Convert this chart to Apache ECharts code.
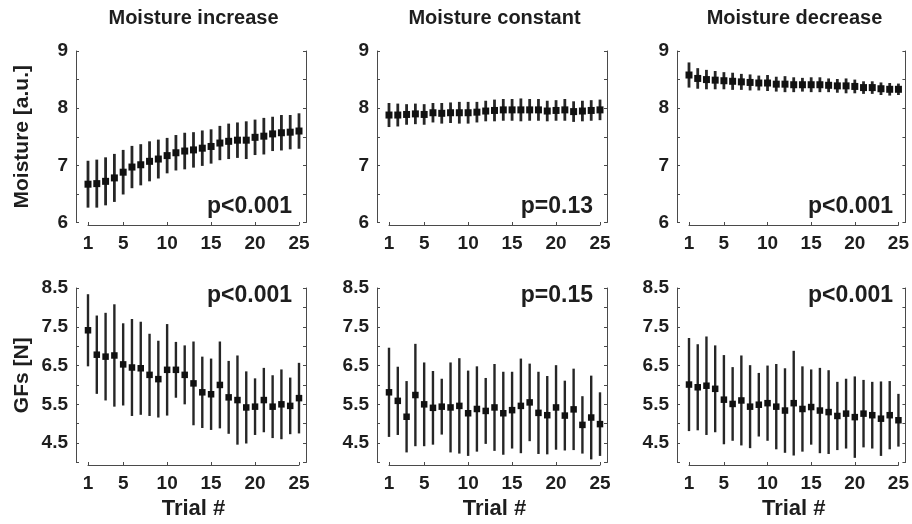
<!DOCTYPE html>
<html>
<head>
<meta charset="utf-8">
<script src="https://cdn.jsdelivr.net/npm/echarts@6/dist/echarts.min.js"></script>
<style>
  html, body { margin: 0; padding: 0; background: #fff; }
  #chart { width: 912px; height: 524px; }
</style>
</head>
<body>
<div id="chart"></div>
<script>
// Trial numbers and tick labels
const trials = Array.from({ length: 25 }, (_, i) => i + 1);
const xTickValues = [1, 5, 10, 15, 20, 25];
const moistureTicks = [6, 7, 8, 9];
const gfTicks = [4.5, 5.5, 6.5, 7.5, 8.5];

const conditionTitles = ['Moisture increase', 'Moisture constant', 'Moisture decrease'];
const moisturePValues = ['p<0.001', 'p=0.13', 'p<0.001'];
const gfPValues = ['p<0.001', 'p=0.15', 'p<0.001'];

// Moisture [a.u.] — mean and SD per trial
const moistIncMean = [6.67, 6.68, 6.72, 6.78, 6.88, 6.97, 7.01, 7.07, 7.11, 7.17, 7.22, 7.25, 7.27, 7.30, 7.33, 7.39, 7.42, 7.44, 7.44, 7.49, 7.51, 7.55, 7.57, 7.58, 7.60];
const moistIncSd   = [0.41, 0.42, 0.42, 0.42, 0.39, 0.37, 0.36, 0.35, 0.34, 0.31, 0.31, 0.32, 0.31, 0.31, 0.30, 0.30, 0.31, 0.31, 0.33, 0.31, 0.32, 0.30, 0.31, 0.30, 0.31];
const moistConMean = [7.88, 7.88, 7.89, 7.90, 7.89, 7.92, 7.91, 7.92, 7.92, 7.92, 7.93, 7.95, 7.96, 7.97, 7.97, 7.97, 7.97, 7.97, 7.95, 7.96, 7.97, 7.94, 7.95, 7.96, 7.97];
const moistConSd   = [0.21, 0.20, 0.18, 0.18, 0.18, 0.17, 0.18, 0.18, 0.19, 0.19, 0.18, 0.18, 0.19, 0.19, 0.19, 0.20, 0.19, 0.19, 0.18, 0.18, 0.19, 0.18, 0.18, 0.18, 0.18];
const moistDecMean = [8.58, 8.52, 8.50, 8.49, 8.48, 8.47, 8.46, 8.45, 8.44, 8.44, 8.42, 8.42, 8.41, 8.41, 8.41, 8.41, 8.40, 8.39, 8.39, 8.38, 8.36, 8.36, 8.34, 8.33, 8.33];
const moistDecSd   = [0.22, 0.18, 0.17, 0.16, 0.15, 0.15, 0.14, 0.14, 0.13, 0.14, 0.13, 0.14, 0.13, 0.12, 0.13, 0.13, 0.12, 0.12, 0.13, 0.12, 0.11, 0.11, 0.11, 0.11, 0.10];

// Grip forces GFs [N] — mean and SD per trial
const gfIncMean = [7.41, 6.78, 6.73, 6.76, 6.53, 6.45, 6.43, 6.26, 6.15, 6.39, 6.39, 6.26, 6.04, 5.81, 5.76, 6.00, 5.68, 5.61, 5.42, 5.44, 5.61, 5.44, 5.50, 5.46, 5.66];
const gfIncSd   = [0.93, 1.01, 1.13, 1.32, 1.06, 1.25, 1.20, 1.06, 0.99, 1.18, 0.72, 0.76, 1.08, 0.92, 0.92, 1.12, 0.94, 1.15, 0.93, 0.73, 0.83, 0.81, 0.90, 0.73, 0.91];
const gfConMean = [5.81, 5.59, 5.18, 5.74, 5.50, 5.41, 5.44, 5.42, 5.46, 5.27, 5.38, 5.33, 5.42, 5.27, 5.35, 5.46, 5.55, 5.28, 5.22, 5.42, 5.21, 5.37, 4.97, 5.16, 4.99];
const gfConSd   = [1.15, 0.88, 0.92, 1.32, 1.08, 0.95, 0.72, 1.16, 1.23, 1.10, 1.10, 0.85, 1.12, 1.07, 0.99, 1.22, 1.00, 1.06, 1.01, 1.09, 0.90, 1.05, 0.74, 1.08, 0.82];
const gfDecMean = [6.01, 5.94, 5.98, 5.90, 5.62, 5.51, 5.60, 5.44, 5.49, 5.53, 5.44, 5.34, 5.53, 5.38, 5.43, 5.34, 5.30, 5.20, 5.26, 5.17, 5.26, 5.22, 5.13, 5.22, 5.09];
const gfDecSd   = [1.20, 1.11, 1.27, 1.12, 1.15, 0.95, 1.16, 1.07, 0.82, 0.97, 1.10, 1.09, 1.35, 1.10, 0.97, 1.10, 1.08, 0.88, 0.90, 1.05, 0.87, 0.86, 0.96, 0.88, 0.68];

const FONT = '"Liberation Sans", Arial, Helvetica, sans-serif';
const INK = '#1e1e1e';
const AXIS = '#4a4a4a';

const colLeft = [88, 389, 689];
const plotW = 211;
const rows = [
  { top: 51, height: 171.5, min: 6, max: 9, labels: moistureTicks, name: 'Moisture [a.u.]',
    means: [moistIncMean, moistConMean, moistDecMean], sds: [moistIncSd, moistConSd, moistDecSd],
    pvals: moisturePValues, pY: 207, barW: 2.8, mark: 7 },
  { top: 288, height: 174.5, min: 4, max: 8.5, labels: gfTicks, name: 'GFs [N]',
    means: [gfIncMean, gfConMean, gfDecMean], sds: [gfIncSd, gfConSd, gfDecSd],
    pvals: gfPValues, pY: 296, barW: 2.4, mark: 6.5 }
];

const grid = [], xAxis = [], yAxis = [], series = [], graphic = [];

rows.forEach((row, r) => {
  colLeft.forEach((left, c) => {
    const g = grid.length;
    grid.push({ left: left, top: row.top, width: plotW, height: row.height });

    xAxis.push({
      type: 'value', gridIndex: g, min: 1, max: 25, offset: 2.5,
      axisLine: { show: true, lineStyle: { color: AXIS, width: 1 } },
      axisTick: { show: true, inside: true, length: 3, customValues: xTickValues, lineStyle: { color: AXIS } },
      axisLabel: { customValues: xTickValues, margin: 9, fontFamily: FONT, fontSize: 19, fontWeight: 'bold', color: INK },
      splitLine: { show: false },
      name: r === 1 ? 'Trial #' : '', nameLocation: 'middle', nameGap: 33,
      nameTextStyle: { fontFamily: FONT, fontSize: 22, fontWeight: 'bold', color: INK }
    });

    const yBase = {
      type: 'value', gridIndex: g, min: row.min, max: row.max, interval: 0.5,
      axisLine: { show: true, lineStyle: { color: AXIS, width: 1 } },
      axisTick: { show: true, inside: true, length: 3, lineStyle: { color: AXIS } },
      splitLine: { show: false }
    };
    yAxis.push(Object.assign({}, yBase, {
      position: 'left', offset: 12,
      axisLabel: { customValues: row.labels, margin: 8, fontFamily: FONT, fontSize: 19, fontWeight: 'bold', color: INK },
      name: c === 0 ? row.name : '', nameLocation: 'middle', nameGap: 43, nameRotate: 90,
      nameTextStyle: { fontFamily: FONT, fontSize: 21, fontWeight: 'bold', color: INK }
    }));
    const leftY = yAxis.length - 1;
    yAxis.push(Object.assign({}, yBase, {
      position: 'right', offset: 7, axisLabel: { show: false }
    }));

    const means = row.means[c], sds = row.sds[c];
    series.push({
      type: 'custom', xAxisIndex: g, yAxisIndex: leftY,
      data: trials.map((t, i) => [t, means[i], sds[i]]),
      renderItem: (params, api) => {
        const x = api.value(0), m = api.value(1), s = api.value(2);
        const hi = api.coord([x, m + s]);
        const lo = api.coord([x, m - s]);
        const mid = api.coord([x, m]);
        const h = row.mark / 2;
        return {
          type: 'group',
          children: [
            { type: 'line', shape: { x1: hi[0], y1: hi[1], x2: lo[0], y2: lo[1] },
              style: { stroke: '#262626', lineWidth: row.barW } },
            { type: 'rect', shape: { x: mid[0] - h, y: mid[1] - h, width: row.mark, height: row.mark },
              style: { fill: '#111' } }
          ]
        };
      }
    });

    // significance label, right-aligned inside the panel
    graphic.push({
      type: 'text',
      style: { text: row.pvals[c], x: left + plotW - 7, y: row.pY, align: 'right', verticalAlign: 'middle',
        fill: INK, font: 'bold 23px ' + FONT }
    });

    if (r === 0) {
      graphic.push({
        type: 'text', style: { text: conditionTitles[c], x: left + plotW / 2, y: 18,
          align: 'center', verticalAlign: 'middle', fill: INK, font: 'bold 20px ' + FONT }
      });
    }
  });
});

const chart = echarts.init(document.getElementById('chart'), null, { renderer: 'canvas' });
chart.setOption({
  backgroundColor: '#fff',
  animation: false,
  grid, xAxis, yAxis, series, graphic
});
</script>
</body>
</html>
